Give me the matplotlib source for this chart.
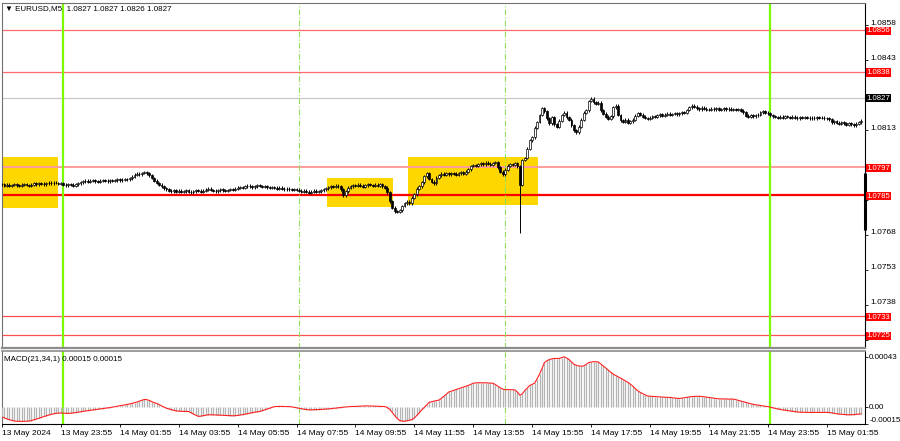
import numpy as np
import matplotlib.pyplot as plt
import matplotlib.transforms as mtransforms

plt.rcParams['font.family'] = ['Liberation Sans', 'DejaVu Sans']

# EURUSD M5, closes in pips above 1.0700, one value per bar, 24 bars per row
base = 1.07
close_pips = [
    89.8, 89.2, 89.6, 89.0, 89.4, 89.8, 89.3, 89.0, 89.5, 89.9, 89.4, 89.1, 89.6, 90.1, 89.8, 90.3, 90.0, 89.7, 90.2, 90.4, 90.1, 90.5, 90.3, 89.9,
    90.1, 89.6, 89.3, 89.8, 89.5, 89.2, 89.7, 90.2, 90.6, 91.0, 91.3, 90.9, 91.2, 91.5, 91.1, 90.8, 91.2, 91.6, 91.3, 91.0, 91.4, 91.2, 91.5, 91.8,
    91.4, 91.7, 92.0, 91.8, 92.3, 93.0, 93.8, 94.3, 94.0, 94.6, 95.0, 94.5, 93.6, 92.4, 91.2, 90.3, 89.5, 88.8, 88.0, 87.6, 87.0, 86.8, 87.3, 86.6,
    86.9, 86.4, 86.7, 87.1, 86.6, 86.3, 86.8, 87.2, 86.9, 86.5, 87.0, 87.4, 87.8, 87.3, 87.0, 86.7, 87.1, 87.5, 87.2, 86.9, 87.3, 87.7, 87.4, 87.9,
    88.2, 88.6, 88.3, 88.8, 89.2, 88.9, 88.5, 88.9, 89.3, 89.0, 88.6, 88.9, 88.5, 88.2, 88.6, 88.3, 87.9, 88.2, 87.8, 87.5, 87.9, 87.6, 87.3, 87.7,
    87.4, 87.0, 86.6, 86.9, 86.5, 86.2, 86.6, 86.9, 86.5, 86.8, 87.2, 87.6, 88.0, 88.4, 88.9, 88.6, 89.2, 88.8, 87.5, 85.0, 86.8, 88.2, 88.9, 89.4,
    89.0, 89.5, 89.1, 88.7, 89.3, 89.8, 89.4, 89.0, 89.5, 89.2, 89.7, 88.9, 88.2, 86.3, 82.4, 79.6, 78.2, 77.8, 78.6, 80.4, 81.6, 82.2, 81.5, 84.0,
    85.5, 87.8, 88.9, 90.6, 93.2, 94.5, 92.0, 90.8, 90.2, 92.5, 93.6, 94.2, 93.8, 94.4, 94.0, 94.6, 94.2, 93.9, 94.5, 94.8, 94.3, 95.1, 96.2, 97.6,
    98.0, 97.6, 98.3, 98.8, 98.4, 99.0, 98.6, 98.2, 98.9, 99.3, 97.0, 95.2, 94.0, 96.0, 97.8, 98.4, 98.0, 98.7, 97.5, 89.5, 100.2, 101.0, 105.0, 108.6,
    110.0, 114.0, 116.5, 119.5, 122.5, 121.0, 118.0, 116.0, 118.5, 115.5, 114.5, 117.0, 119.5, 120.5, 118.5, 117.5, 115.0, 113.0, 112.0, 114.5, 117.5, 120.5, 121.5, 125.5,
    126.5, 125.0, 124.2, 124.8, 121.5, 120.0, 118.8, 117.8, 119.0, 122.8, 123.5, 119.5, 117.2, 116.5, 117.4, 116.2, 116.8, 117.5, 119.2, 120.2, 119.6, 118.8, 118.2, 117.8,
    118.4, 119.0, 118.6, 119.4, 119.8, 119.2, 119.6, 120.0, 119.5, 119.9, 120.3, 119.8, 120.2, 120.7, 120.4, 121.6, 122.8, 123.5, 123.0, 122.4, 122.0, 122.6, 122.2, 121.8,
    121.8, 122.2, 121.9, 122.3, 121.7, 122.0, 122.4, 121.9, 122.2, 121.8, 122.1, 121.6, 122.0, 121.4, 120.6, 119.2, 118.8, 119.4, 118.9, 119.3, 119.6, 120.6, 121.0, 120.5,
    120.2, 119.4, 119.0, 118.6, 118.2, 118.8, 118.4, 119.0, 118.6, 118.3, 118.7, 118.4, 118.1, 118.5, 118.2, 118.6, 118.3, 118.0, 118.4, 118.1, 118.5, 118.2, 118.4, 118.0,
    118.1, 117.6, 116.4, 116.8, 116.2, 115.8, 116.3, 115.9, 115.4, 115.9, 115.5, 115.1, 115.7, 116.4, 117.0,
]
wick_low = {211: 68.8}
wick_high = {240: 127.2}

# MACD(21,34,1) in units of 1e-5
macd = [
    -9.0, -9.8, -10.6, -11.3, -11.9, -12.4, -12.6, -12.7, -12.8, -12.7, -12.6, -12.5, -12.0, -11.4, -10.7, -10.0, -9.2, -8.5, -7.9, -7.3, -6.7, -6.2, -5.8, -5.6,
    -5.5, -5.6, -5.8, -5.9, -5.7, -5.4, -5.1, -4.8, -4.5, -4.1, -3.8, -3.5, -3.2, -2.9, -2.6, -2.3, -2.0, -1.7, -1.4, -1.1, -0.8, -0.4, -0.1, 0.3,
    0.8, 1.1, 1.5, 1.9, 2.3, 2.8, 3.4, 4.0, 4.7, 5.5, 6.2, 6.0, 5.4, 4.3, 3.4, 2.8, 1.7, 0.6, -0.4, -1.4, -2.0, -2.7, -3.2, -3.7,
    -3.9, -4.0, -4.1, -4.2, -4.2, -5.3, -6.4, -7.5, -8.4, -8.2, -7.8, -7.4, -7.1, -7.0, -7.1, -7.2, -7.3, -7.4, -7.5, -7.6, -7.7, -7.8, -7.9, -7.8,
    -7.6, -7.3, -6.9, -6.5, -6.1, -5.7, -5.2, -4.8, -4.5, -4.2, -3.5, -2.8, -2.1, -1.4, -0.7, 0.0, 0.1, 0.2, 0.2, 0.1, 0.0, 0.0, -0.2, -0.6,
    -1.0, -1.4, -1.8, -2.2, -2.5, -2.8, -2.8, -2.7, -2.6, -2.5, -2.4, -2.3, -2.1, -2.0, -1.8, -1.5, -1.3, -1.0, -0.8, -0.5, -0.3, -0.1, 0.0, 0.1,
    0.2, 0.3, 0.4, 0.5, 0.6, 0.6, 0.5, 0.5, 0.4, 0.3, 0.2, 0.1, 0.0, -0.8, -2.5, -5.0, -7.8, -10.2, -12.0, -12.6, -12.5, -12.2, -11.8, -11.2,
    -9.8, -7.6, -5.2, -2.8, -0.8, 1.5, 3.7, 4.2, 4.7, 5.2, 5.6, 7.2, 8.8, 10.6, 12.6, 13.3, 14.0, 14.8, 15.5, 16.2, 16.9, 17.6, 18.3, 19.3,
    20.2, 20.5, 20.6, 20.6, 20.5, 20.6, 20.4, 20.3, 20.2, 19.0, 17.6, 16.2, 15.2, 14.6, 14.7, 14.6, 14.5, 14.4, 12.5, 9.8, 11.0, 14.0, 16.0, 18.3,
    19.3, 20.2, 24.0, 28.0, 33.0, 38.0, 39.5, 40.7, 41.2, 41.6, 41.5, 41.6, 42.3, 43.0, 42.0, 40.7, 38.6, 36.5, 35.7, 35.0, 35.0, 35.0, 36.5, 38.0,
    38.4, 38.8, 38.7, 38.5, 36.8, 35.0, 33.2, 31.5, 29.8, 28.0, 26.9, 25.8, 24.6, 23.4, 22.2, 21.0, 19.4, 17.7, 15.5, 13.7, 12.3, 11.2, 10.2, 9.2,
    9.0, 8.8, 8.7, 8.5, 8.4, 8.3, 8.1, 8.0, 7.9, 7.7, 7.4, 7.2, 7.0, 7.3, 7.7, 8.0, 8.4, 8.6, 8.8, 8.9, 9.0, 8.7, 8.5, 8.2,
    7.9, 7.6, 7.3, 7.0, 6.7, 6.7, 6.6, 6.6, 6.5, 6.5, 6.5, 6.0, 5.4, 4.8, 4.2, 3.6, 3.1, 2.5, 2.0, 1.6, 1.3, 1.0, 0.6, 0.3,
    0.0, -0.5, -1.0, -1.5, -2.0, -2.4, -2.8, -3.1, -3.4, -3.7, -4.0, -4.3, -4.6, -4.8, -4.9, -4.9, -5.0, -5.0, -5.0, -5.0, -5.0, -5.0, -5.0, -5.0,
    -5.0, -5.1, -5.4, -5.8, -6.2, -6.4, -6.6, -6.8, -7.0, -7.0, -7.0, -6.9, -6.7, -6.5, -6.3,
]

red_levels = [1.0856, 1.0838, 1.0797, 1.0785, 1.0733, 1.0725]
bid = 1.0827
price_ticks = [1.0858, 1.0843, 1.0828, 1.0813, 1.0798, 1.0783, 1.0768, 1.0753, 1.0738, 1.0723]
hidden_ticks = [1.0828, 1.0798, 1.0783, 1.0723]   # sit under the level boxes
time_labels = ['13 May 2024', '13 May 23:55', '14 May 01:55', '14 May 03:55', '14 May 05:55',
               '14 May 07:55', '14 May 09:55', '14 May 11:55', '14 May 13:55', '14 May 15:55',
               '14 May 17:55', '14 May 19:55', '14 May 21:55', '14 May 23:55', '15 May 01:55']
time_ticks = [0, 24, 48, 72, 96, 120, 144, 168, 192, 216, 240, 264, 288, 312, 336]
# (bar from, bar to, price low, price high)
boxes = [(-0.5, 22.8, 1.07796, 1.08015),
         (132.6, 159.5, 1.07800, 1.07924),
         (165.6, 218.5, 1.07808, 1.08015)]
day_lines = [25, 313]
session_lines = [121, 205]
edge_bar = (1.07701, 1.07946)

closes = base + np.array(close_pips) / 10000
opens = np.r_[closes[0], closes[:-1]]
highs = np.maximum(opens, closes) + 0.00006
lows = np.minimum(opens, closes) - 0.00006
for k, v in wick_low.items():
    lows[k] = base + v / 10000
for k, v in wick_high.items():
    highs[k] = base + v / 10000
x = np.arange(len(closes))

fig = plt.figure(figsize=(9, 4.41), dpi=100)
ax = fig.add_axes([2 / 900, 1 - 348 / 441, 863 / 900, 345 / 441])
ax2 = fig.add_axes([2 / 900, 1 - 424 / 441, 863 / 900, 73 / 441])

# price panel
for x0, x1, y0, y1 in boxes:
    ax.fill_between([x0, x1], y0, y1, color='#ffd700', lw=0, zorder=1)

lvl_style = {1.0856: ('#ff6a6a', 0.9), 1.0838: ('#ff6a6a', 0.9), 1.0797: ('#ff9c9c', 1.4),
             1.0785: ('#ff0000', 1.6), 1.0733: ('#ff5050', 0.9), 1.0725: ('#ff5050', 0.9)}
for lv in red_levels:
    c, w = lvl_style[lv]
    ax.axhline(lv, color=c, lw=w, zorder=2)
ax.axhline(bid, color='#c8c8c8', lw=0.9, zorder=2)

for d in day_lines:
    ax.axvline(d, color='#7cfc00', lw=1.6, zorder=2)
    ax2.axvline(d, color='#7cfc00', lw=1.6, zorder=2)
for s in session_lines:
    ax.axvline(s, color='#8fe05a', lw=0.8, ls=(0, (5, 2, 1, 2)), zorder=2)
    ax2.axvline(s, color='#8fe05a', lw=0.8, ls=(0, (5, 2, 1, 2)), zorder=2)

ax.vlines(x, lows, highs, color='black', lw=0.7, zorder=3)
up = closes >= opens
ax.bar(x[up], (closes - opens)[up], bottom=opens[up], width=0.75, color='white',
       edgecolor='black', linewidth=0.5, zorder=4)
ax.bar(x[~up], (closes - opens)[~up], bottom=opens[~up], width=0.75, color='black',
       edgecolor='black', linewidth=0.5, zorder=4)

ax.plot([351.4, 351.4], edge_bar, color='black', lw=2.2, solid_capstyle='butt',
        clip_on=False, zorder=6)

ax.set_xlim(0, 351.6)
ax.set_ylim(1.071942, 1.086760)
ax.set_xticks([])
ax.yaxis.tick_right()
ax.set_yticks(price_ticks)
ax.set_yticklabels(['' if t in hidden_ticks else f'{t:.4f}' for t in price_ticks])
ax.tick_params(axis='y', direction='out', length=2.5, width=0.6, pad=1, labelsize=6)
# MT4 prints the scale numbers a little above their level
lift = mtransforms.ScaledTranslation(0, 3 / 100, fig.dpi_scale_trans)
for lbl in ax.get_yticklabels():
    lbl.set_transform(lbl.get_transform() + lift)

for lv in red_levels:
    ax.annotate(f'{lv:.4f}', xy=(1, lv), xycoords=('axes fraction', 'data'),
                xytext=(1.2, -0.5), textcoords='offset points', va='center', ha='left',
                fontsize=5.6, color='white', zorder=10, annotation_clip=False,
                bbox=dict(boxstyle='square,pad=0.08', fc='#ff0000', ec='none'))
ax.annotate(f'{bid:.4f}', xy=(1, bid), xycoords=('axes fraction', 'data'),
            xytext=(1.2, -0.5), textcoords='offset points', va='center', ha='left',
            fontsize=5.6, color='white', zorder=10, annotation_clip=False,
            bbox=dict(boxstyle='square,pad=0.08', fc='black', ec='none'))

ax.text(0.003, 0.995, '\u25bc EURUSD,M5  1.0827 1.0827 1.0826 1.0827', transform=ax.transAxes,
        fontsize=5.8, va='top', ha='left', color='black')

for side in ['left', 'top']:
    ax.spines[side].set_color('#707070')
    ax.spines[side].set_linewidth(0.8)
ax.spines['right'].set_color('black')
ax.spines['right'].set_linewidth(0.8)
ax.spines['bottom'].set_color('#8c8c8c')
ax.spines['bottom'].set_linewidth(1.6)

# MACD panel
m = np.array(macd)
ax2.vlines(x, 0, m, color='#b4b4b4', lw=0.9, zorder=3)
ax2.plot(x, m, color='#ff2020', lw=0.8, zorder=4)
ax2.set_xlim(0, 351.6)
ax2.set_ylim(-15, 48)
ax2.yaxis.tick_right()
ax2.set_yticks([43, 0, -15])
ax2.set_yticklabels(['0.00043', '0.00', '-0.00015'])
ax2.tick_params(axis='y', direction='out', length=2, width=0.6, pad=1, labelsize=5.8)
ax2.get_yticklabels()[2].set_va('bottom')
ax2.set_xticks(time_ticks)
ax2.set_xticklabels(time_labels)
for lbl in ax2.get_xticklabels():
    lbl.set_ha('left')
ax2.tick_params(axis='x', direction='out', length=2.5, width=0.6, pad=2, labelsize=6)
ax2.text(0.002, 0.88, 'MACD(21,34,1) 0.00015 0.00015', transform=ax2.transAxes,
         fontsize=5.8, va='center', ha='left')

ax2.spines['top'].set_color('#8c8c8c')
ax2.spines['top'].set_linewidth(1.2)
ax2.spines['left'].set_color('#707070')
ax2.spines['left'].set_linewidth(0.8)
ax2.spines['right'].set_color('black')
ax2.spines['right'].set_linewidth(0.8)
ax2.spines['bottom'].set_color('black')
ax2.spines['bottom'].set_linewidth(0.8)

fig.savefig('out.png', dpi=100)
